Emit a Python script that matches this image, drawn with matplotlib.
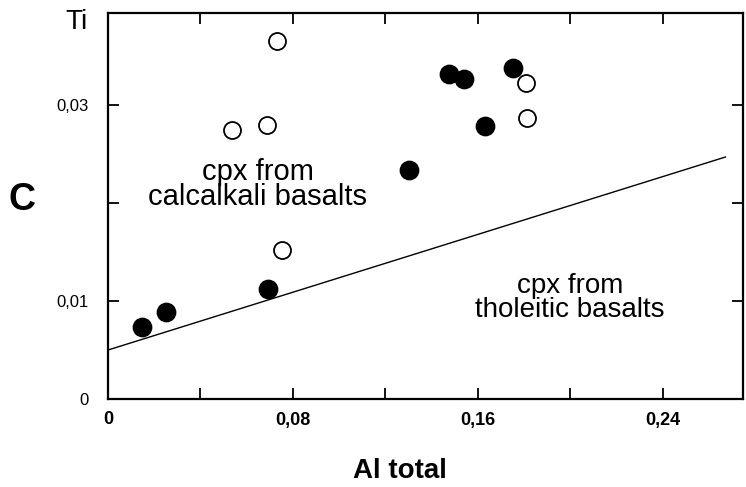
import matplotlib
matplotlib.use("Agg")
import matplotlib.pyplot as plt

plt.rcParams['font.family'] = ['Liberation Sans', 'DejaVu Sans']

# open circles: cpx from calcalkali basalts
open_al = [0.073, 0.0535, 0.0686, 0.0751, 0.1808, 0.181]
open_ti = [0.0365, 0.0275, 0.0280, 0.0152, 0.0323, 0.0287]

# filled circles
fill_al = [0.0149, 0.0250, 0.0693, 0.1303, 0.1475, 0.1541, 0.163, 0.175]
fill_ti = [0.0073, 0.0089, 0.0112, 0.0234, 0.0332, 0.0327, 0.0279, 0.0338]

# discrimination line
line_al = [0.0, 0.267]
line_ti = [0.0050, 0.0247]

xticks = [0, 0.04, 0.08, 0.12, 0.16, 0.20, 0.24]
xlabels = ["0", "", "0,08", "", "0,16", "", "0,24"]
yticks = [0, 0.01, 0.02, 0.03]
ylabels = ["0", "0,01", "", "0,03"]

fig = plt.figure(figsize=(7.46, 4.87), dpi=100)
ax = fig.add_axes([108 / 746, 88 / 487, 635 / 746, 386 / 487])

ax.plot(line_al, line_ti, color="black", lw=1.0)
ax.scatter(fill_al, fill_ti, s=175, color="black", zorder=3)
ax.scatter(open_al, open_ti, s=150, facecolors="white", edgecolors="black",
           linewidths=1.3, zorder=3)

ax.set_xlim(0, 0.2746)
ax.set_ylim(0, 0.0394)
ax.set_xticks(xticks)
ax.set_xticklabels(xlabels, fontsize=13, fontweight="bold")
ax.set_yticks(yticks)
ax.set_yticklabels(ylabels, fontsize=12)
ax.tick_params(direction="in", length=8, width=1.3, top=True, right=True)
ax.tick_params(axis="x", pad=9)
ax.tick_params(axis="y", pad=14)
for sp in ax.spines.values():
    sp.set_linewidth(1.6)

ax.text(0.0647, 0.0219, "cpx from\ncalcalkali basalts", ha="center", va="center",
        fontsize=21, linespacing=0.9)
ax.text(0.1998, 0.0103, "cpx from\ntholeitic basalts", ha="center", va="center",
        fontsize=20, linespacing=0.9)

fig.text(77 / 746, 1 - 22 / 487, "Ti", ha="center", va="center", fontsize=20)
fig.text(22 / 746, 1 - 200 / 487, "C", ha="center", va="center", fontsize=27,
         fontweight="heavy")
fig.text(400 / 746, 1 - 471 / 487, "Al total", ha="center", va="center",
         fontsize=20, fontweight="bold")

fig.savefig("out.png", dpi=100)
